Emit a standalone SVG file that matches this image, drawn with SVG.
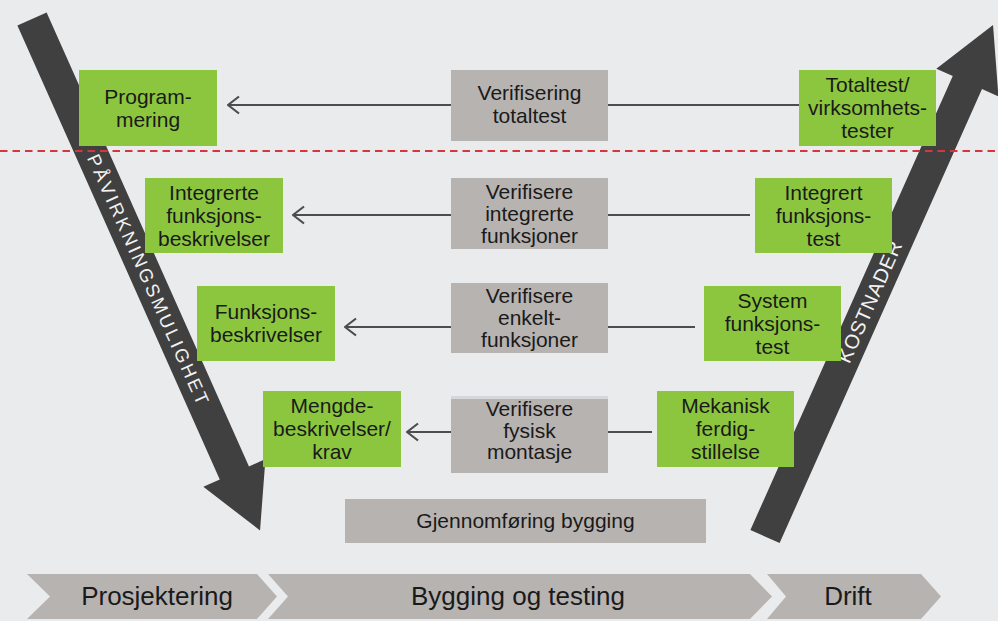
<svg xmlns="http://www.w3.org/2000/svg" width="998" height="621" viewBox="0 0 998 621">
<defs>
<style>
.bg{fill:#eaebed}
.green{fill:#8cc63f}
.gray{fill:#b7b3b1}
.big{fill:#404040}
.t{font-family:"Liberation Sans",Arial,sans-serif;font-size:21px;fill:#1a1a1a;text-anchor:middle}
.ph{font-family:"Liberation Sans",Arial,sans-serif;font-size:26px;fill:#1a1a1a;text-anchor:middle}
.at{font-family:"Liberation Sans",Arial,sans-serif;fill:#f2f2f2;text-anchor:middle}
.con{stroke:#4d4d4d;stroke-width:2.2;fill:none}
</style>
<marker id="open" markerUnits="userSpaceOnUse" markerWidth="14" markerHeight="20" viewBox="0 0 14 20" refX="12.5" refY="10" orient="auto">
<path d="M1.5,1.5 L12.5,10 L1.5,18.5" fill="none" stroke="#4d4d4d" stroke-width="2.2"/>
</marker>
</defs>
<rect class="bg" x="0" y="0" width="998" height="621"/>

<g id="arrow-left">
<g transform="translate(32,19) rotate(65.97)">
<polygon class="big" points="0,-16 497,-16 497,-34 560,0 497,34 497,16 0,16"/>
<text class="at" x="285" y="6.5" font-size="18.5" textLength="272" lengthAdjust="spacing">PÅVIRKNINGSMULIGHET</text>
</g>
</g>
<g id="arrow-right">
<g transform="translate(765,536.5) rotate(-65.97)">
<polygon class="big" points="0,-16 497,-16 497,-34 560,0 497,34 497,16 0,16"/>
<text class="at" x="257" y="7" font-size="20" textLength="131" lengthAdjust="spacing">KOSTNADER</text>
</g>
</g>

<g id="divider">
<line x1="0" y1="151" x2="998" y2="151" stroke="#d8363e" stroke-width="2" stroke-dasharray="7.5,5"/>
</g>

<g id="connectors">
<line class="con" x1="451" y1="105" x2="228" y2="105" marker-end="url(#open)"/>
<line class="con" x1="608" y1="105" x2="799" y2="105"/>
<line class="con" x1="451" y1="215" x2="293" y2="215" marker-end="url(#open)"/>
<line class="con" x1="608" y1="215" x2="750" y2="215"/>
<line class="con" x1="451" y1="327" x2="345" y2="327" marker-end="url(#open)"/>
<line class="con" x1="608" y1="327" x2="695" y2="327"/>
<line class="con" x1="451" y1="432" x2="407" y2="432" marker-end="url(#open)"/>
<line class="con" x1="608" y1="432" x2="652" y2="432"/>
</g>

<g id="programmering">
<rect class="green" x="79" y="70" width="138" height="76"/>
<text class="t"><tspan x="148" y="103.5">Program-</tspan><tspan x="148" y="126.5">mering</tspan></text>
</g>
<g id="verifisering-totaltest">
<rect class="gray" x="451" y="70" width="157" height="71"/>
<text class="t"><tspan x="529.5" y="100">Verifisering</tspan><tspan x="529.5" y="123">totaltest</tspan></text>
</g>
<g id="totaltest">
<rect class="green" x="799" y="70" width="137" height="76"/>
<text class="t"><tspan x="867.5" y="92">Totaltest/</tspan><tspan x="867.5" y="115">virksomhets-</tspan><tspan x="867.5" y="138">tester</tspan></text>
</g>

<g id="integrerte-funksjonsbeskrivelser">
<rect class="green" x="145" y="178" width="138" height="75"/>
<text class="t"><tspan x="214" y="199.5">Integrerte</tspan><tspan x="214" y="222.5">funksjons-</tspan><tspan x="214" y="245.5">beskrivelser</tspan></text>
</g>
<g id="verifisere-integrerte">
<rect class="gray" x="451" y="178" width="157" height="71"/>
<text class="t"><tspan x="529.5" y="198.5">Verifisere</tspan><tspan x="529.5" y="220.5">integrerte</tspan><tspan x="529.5" y="242.5">funksjoner</tspan></text>
</g>
<g id="integrert-funksjonstest">
<rect class="green" x="755" y="178" width="137" height="75"/>
<text class="t"><tspan x="823.5" y="199.5">Integrert</tspan><tspan x="823.5" y="222.5">funksjons-</tspan><tspan x="823.5" y="245.5">test</tspan></text>
</g>

<g id="funksjonsbeskrivelser">
<rect class="green" x="197" y="286" width="138" height="75"/>
<text class="t"><tspan x="266" y="319">Funksjons-</tspan><tspan x="266" y="342">beskrivelser</tspan></text>
</g>
<g id="verifisere-enkelt">
<rect class="gray" x="451" y="283" width="157" height="70"/>
<text class="t"><tspan x="529.5" y="303">Verifisere</tspan><tspan x="529.5" y="325">enkelt-</tspan><tspan x="529.5" y="347">funksjoner</tspan></text>
</g>
<g id="system-funksjonstest">
<rect class="green" x="704" y="286" width="137" height="75"/>
<text class="t"><tspan x="772.5" y="307.5">System</tspan><tspan x="772.5" y="330.5">funksjons-</tspan><tspan x="772.5" y="353.5">test</tspan></text>
</g>

<g id="mengdebeskrivelser">
<rect class="green" x="263" y="391" width="138" height="76"/>
<text class="t"><tspan x="332" y="412.5">Mengde-</tspan><tspan x="332" y="435.5">beskrivelser/</tspan><tspan x="332" y="458.5">krav</tspan></text>
</g>
<g id="verifisere-fysisk">
<rect x="451" y="396" width="157" height="3" fill="#d5d8db"/>
<rect class="gray" x="451" y="399" width="157" height="74"/>
<text class="t"><tspan x="529.5" y="416">Verifisere</tspan><tspan x="529.5" y="437.5">fysisk</tspan><tspan x="529.5" y="459">montasje</tspan></text>
</g>
<g id="mekanisk-ferdigstillelse">
<rect class="green" x="657" y="391" width="137" height="76"/>
<text class="t"><tspan x="725.5" y="412.5">Mekanisk</tspan><tspan x="725.5" y="435.5">ferdig-</tspan><tspan x="725.5" y="458.5">stillelse</tspan></text>
</g>

<g id="gjennomforing">
<rect class="gray" x="345" y="499" width="361" height="44"/>
<text class="t" x="525.5" y="528">Gjennomføring bygging</text>
</g>

<g id="phase-prosjektering">
<polygon class="gray" points="27,574 257,574 277,596.5 257,619 27,619 50,596.5"/>
<text class="ph" x="157" y="605">Prosjektering</text>
</g>
<g id="phase-bygging">
<polygon class="gray" points="268,574 750,574 772,596.5 750,619 268,619 288,596.5"/>
<text class="ph" x="518" y="605">Bygging og testing</text>
</g>
<g id="phase-drift">
<polygon class="gray" points="767,574 921,574 941,596.5 921,619 767,619 786,596.5"/>
<text class="ph" x="848" y="605">Drift</text>
</g>
</svg>
